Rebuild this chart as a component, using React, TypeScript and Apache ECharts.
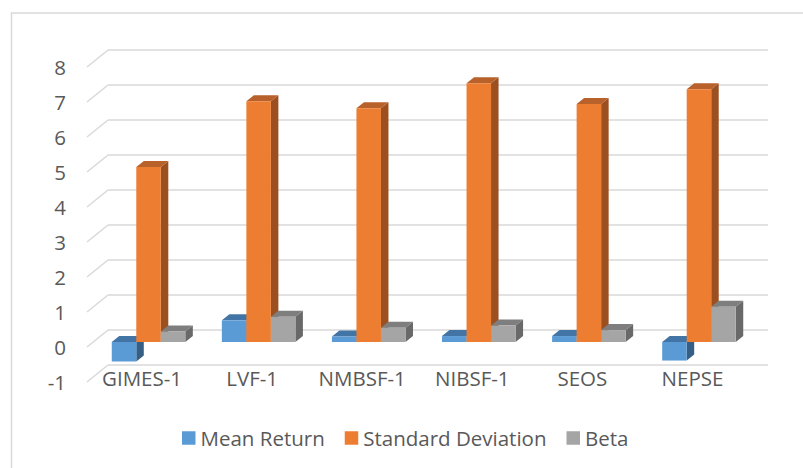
import React, { useEffect, useRef } from "react";
import * as echarts from "echarts";

const categories = ["GIMES-1", "LVF-1", "NMBSF-1", "NIBSF-1", "SEOS", "NEPSE"];
const seriesNames = ["Mean Return", "Standard Deviation", "Beta"];
const meanReturn = [-0.56, 0.62, 0.16, 0.17, 0.17, -0.53];
const standardDeviation = [5.0, 6.88, 6.68, 7.39, 6.8, 7.22];
const beta = [0.3, 0.72, 0.41, 0.47, 0.34, 1.01];
const yTicks = [-1, 0, 1, 2, 3, 4, 5, 6, 7, 8];

const FONT = '"Open Sans", "Noto Sans", sans-serif';
const FONT_SIZE = 20.5;
const TEXT = "#595959";
const GRID_LINE = "#d9d9d9";

// front, top, side colours
const palettes = [
  ["#5B9BD5", "#4274A5", "#365F86"],
  ["#ED7D31", "#B8612A", "#9C4F1F"],
  ["#A5A5A5", "#7E7E7E", "#696969"],
];
const DEPTH_X = 7.5;
const DEPTH_Y = -6;
const BAR_FRAC = 24.5 / 110;

const makeBarRender = (idx: number) => (params: any, api: any) => {
  const ci = api.value(0);
  const v = api.value(1);
  const base = api.coord([ci, 0]);
  const tip = api.coord([ci, v]);
  const band = api.size([1, 0])[0];
  const w = band * BAR_FRAC;
  const x0 = base[0] + (idx - 1.5) * w;
  const yTop = Math.min(base[1], tip[1]);
  const yBot = Math.max(base[1], tip[1]);
  const [cFront, cTop, cSide] = palettes[idx];
  return {
    type: "group",
    children: [
      {
        type: "polygon",
        shape: {
          points: [
            [x0 + w, yTop],
            [x0 + w + DEPTH_X, yTop + DEPTH_Y],
            [x0 + w + DEPTH_X, yBot + DEPTH_Y],
            [x0 + w, yBot],
          ],
        },
        style: { fill: cSide },
      },
      {
        type: "polygon",
        shape: {
          points: [
            [x0, yTop],
            [x0 + w, yTop],
            [x0 + w + DEPTH_X, yTop + DEPTH_Y],
            [x0 + DEPTH_X, yTop + DEPTH_Y],
          ],
        },
        style: { fill: cTop },
      },
      {
        type: "rect",
        shape: { x: x0, y: yTop, width: w, height: yBot - yTop },
        style: { fill: cFront },
      },
    ],
  };
};

export default function App() {
  const ref = useRef<HTMLDivElement>(null);

  useEffect(() => {
    if (!ref.current) return;
    const chart = echarts.init(ref.current, undefined, { renderer: "svg" });
    const seriesData = [meanReturn, standardDeviation, beta];

    const option: any = {
      animation: false,
      textStyle: { fontFamily: FONT },
      graphic: [
        {
          type: "rect",
          shape: { x: 11.5, y: 13, width: 820, height: 500 },
          style: { fill: "none", stroke: GRID_LINE, lineWidth: 1.5 },
          silent: true,
        },
      ],
      legend: {
        left: 182,
        top: 427.5,
        padding: 0,
        itemWidth: 13.5,
        itemHeight: 13.5,
        itemGap: 20,
        icon: "rect",
        data: seriesNames,
        textStyle: { color: TEXT, fontSize: FONT_SIZE, fontFamily: FONT },
        selectedMode: false,
      },
      grid: [
        { left: 108, top: 50, width: 660, height: 315 },
        { left: 87, top: 67, width: 660.5, height: 315 },
        { left: 93.5, top: 62, width: 660.5, height: 315 },
      ],
      xAxis: [
        { gridIndex: 0, type: "category", data: categories, show: false },
        {
          gridIndex: 1,
          type: "category",
          data: categories,
          axisLine: { show: false },
          axisTick: { show: false },
          splitLine: { show: false },
          axisLabel: {
            interval: 0,
            margin: -4.5,
            verticalAlign: "middle",
            color: TEXT,
            fontSize: FONT_SIZE,
            fontFamily: FONT,
          },
        },
        { gridIndex: 1, type: "value", position: "top", min: 0, max: 1, show: false },
        { gridIndex: 2, type: "category", data: categories, show: false },
      ],
      yAxis: [
        {
          gridIndex: 0,
          type: "value",
          min: -1,
          max: 8,
          interval: 1,
          axisLine: { show: false },
          axisTick: { show: false },
          axisLabel: { show: false },
          splitLine: { show: true, lineStyle: { color: GRID_LINE, width: 1.5 } },
        },
        {
          gridIndex: 1,
          type: "value",
          min: -1,
          max: 8,
          interval: 1,
          axisLine: { show: false },
          axisTick: { show: false },
          splitLine: { show: false },
          axisLabel: { margin: 21, color: TEXT, fontSize: FONT_SIZE, fontFamily: FONT },
        },
        { gridIndex: 2, type: "value", min: -1, max: 8, interval: 1, show: false },
      ],
      series: [
        {
          type: "custom",
          name: "floor-lines",
          xAxisIndex: 2,
          yAxisIndex: 1,
          silent: true,
          data: yTicks.map((t) => [0, t]),
          renderItem: (params: any, api: any) => {
            const p = api.coord([0, api.value(1)]);
            return {
              type: "line",
              shape: { x1: p[0], y1: p[1], x2: p[0] + 21, y2: p[1] - 17 },
              style: { stroke: GRID_LINE, lineWidth: 1.5 },
            };
          },
        },
        ...seriesNames.map((name, i) => ({
          type: "custom",
          name,
          xAxisIndex: 3,
          yAxisIndex: 2,
          silent: true,
          itemStyle: { color: palettes[i][0] },
          data: seriesData[i].map((v, ci) => [ci, v]),
          renderItem: makeBarRender(i),
        })),
      ],
    };

    chart.setOption(option);
    return () => chart.dispose();
  }, []);

  return (
    <div
      ref={ref}
      style={{ position: "fixed", left: 0, top: 0, width: 803, height: 468, background: "#fff" }}
    />
  );
}
